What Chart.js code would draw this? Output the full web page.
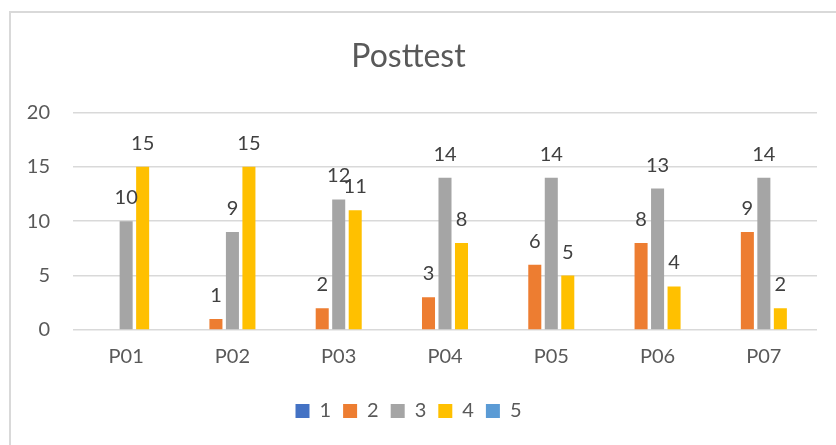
<!DOCTYPE html>
<html>
<head>
<meta charset="utf-8">
<script src="https://cdn.jsdelivr.net/npm/chart.js@4"></script>
<style>
  body { margin: 0; background: #fff; }
  #box { width: 836px; height: 445px; }
</style>
</head>
<body>
<div id="box"><canvas id="myChart"></canvas></div>
<script>
const labels = ['P01', 'P02', 'P03', 'P04', 'P05', 'P06', 'P07'];
const series1 = [0, 0, 0, 0, 0, 0, 0];
const series2 = [0, 1, 2, 3, 6, 8, 9];
const series3 = [10, 9, 12, 14, 14, 13, 14];
const series4 = [15, 15, 11, 8, 5, 4, 2];
const series5 = [0, 0, 0, 0, 0, 0, 0];
const yTicks = [0, 5, 10, 15, 20];

const FONT = 'Lato';

// white background + light frame like the office chart
const frame = {
  id: 'frame',
  beforeDraw(chart) {
    const c = chart.ctx;
    c.save();
    c.fillStyle = '#fff';
    c.fillRect(0, 0, chart.width, chart.height);
    c.strokeStyle = '#d9d9d9';
    c.lineWidth = 2;
    c.strokeRect(10, 12, chart.width + 20, chart.height + 20);
    c.restore();
  }
};

// numbers above the bars (zeros are left out)
const valueLabels = {
  id: 'valueLabels',
  afterDatasetsDraw(chart) {
    const c = chart.ctx;
    c.save();
    c.font = '20px ' + FONT;
    c.fillStyle = '#404040';
    c.textAlign = 'center';
    c.textBaseline = 'alphabetic';
    chart.data.datasets.forEach((ds, i) => {
      chart.getDatasetMeta(i).data.forEach((bar, j) => {
        const v = ds.data[j];
        if (!v) return;
        c.fillText(v, bar.x, bar.y - 17);
      });
    });
    c.restore();
  }
};

const ctx = document.getElementById('myChart');

new Chart(ctx, {
  type: 'bar',
  data: {
    labels: labels,
    datasets: [
      { label: '1', data: series1, backgroundColor: '#4472C4' },
      { label: '2', data: series2, backgroundColor: '#ED7D31' },
      { label: '3', data: series3, backgroundColor: '#A5A5A5' },
      { label: '4', data: series4, backgroundColor: '#FFC000' },
      { label: '5', data: series5, backgroundColor: '#5B9BD5' }
    ]
  },
  options: {
    responsive: true,
    maintainAspectRatio: false,
    animation: false,
    datasets: {
      bar: { categoryPercentage: 0.776, barPercentage: 0.79 }
    },
    layout: { padding: { left: 0, right: 19, top: 0, bottom: 14 } },
    plugins: {
      title: {
        display: true,
        text: 'Posttest',
        color: '#595959',
        font: { family: FONT, size: 32, weight: 'normal' },
        padding: { top: 37, bottom: 37 }
      },
      legend: {
        position: 'bottom',
        labels: {
          color: '#595959',
          font: { family: FONT, size: 20 },
          boxWidth: 14,
          boxHeight: 14,
          padding: 12
        }
      },
      tooltip: { enabled: false }
    },
    scales: {
      x: {
        afterFit(scale) { scale.height += 13; },
        grid: { display: false },
        border: { display: false },
        ticks: { color: '#595959', font: { family: FONT, size: 20 }, padding: 7 }
      },
      y: {
        min: 0,
        max: 20,
        afterFit(scale) { scale.width = 73; },
        afterBuildTicks(scale) { scale.ticks = yTicks.map(v => ({ value: v })); },
        grid: { color: '#d9d9d9', lineWidth: 1.5, drawTicks: false },
        border: { display: false },
        ticks: { color: '#595959', font: { family: FONT, size: 20 }, padding: 23 }
      }
    }
  },
  plugins: [frame, valueLabels]
});
</script>
</body>
</html>
